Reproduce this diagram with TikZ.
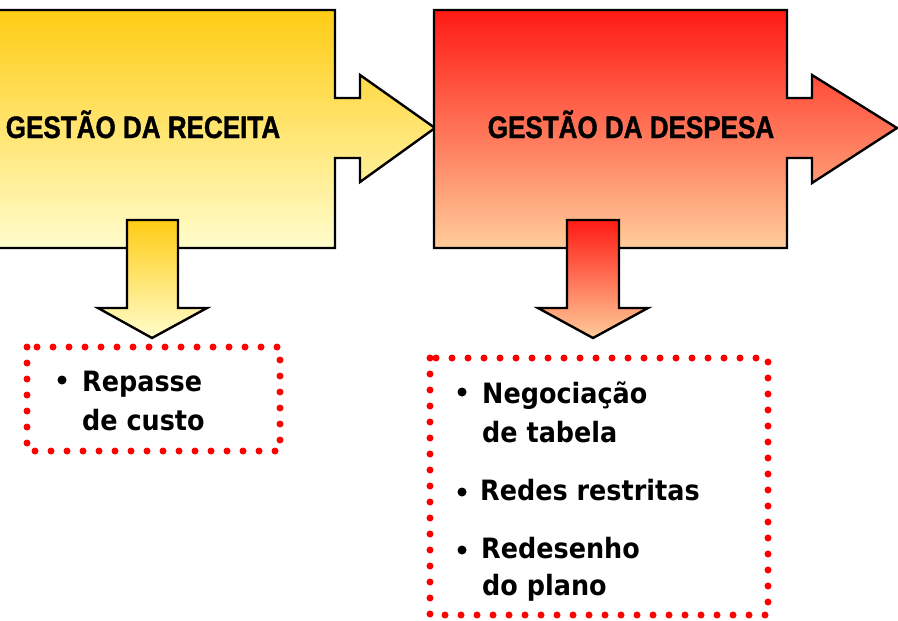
\documentclass[tikz,border=0pt]{standalone}
\usepackage{fontspec}
\newfontfamily\titlefont[FakeStretch=0.84,FakeBold=1.2]{Liberation Sans Bold}
\newfontfamily\itemfont[FakeStretch=0.91]{DejaVu Sans Bold}
\definecolor{ytop}{HTML}{FFCC14}
\definecolor{ybot}{HTML}{FFFDCC}
\definecolor{rtop}{HTML}{FF1A14}
\definecolor{rbot}{HTML}{FFCC99}
\definecolor{dotred}{HTML}{FF0000}
\tikzset{
  outline/.style={draw=black, line width=2.4pt, line join=miter},
  yshade/.style={outline, top color=ytop, bottom color=ybot},
  rshade/.style={outline, top color=rtop, bottom color=rbot},
  dotbox/.style={draw=dotred, line width=7pt, line cap=round, dash pattern=on 0pt off 16pt},
  title/.style={font=\titlefont\fontsize{31}{36}\selectfont, anchor=base, inner sep=0pt},
  itemtext/.style={font=\itemfont\fontsize{28}{33}\selectfont, anchor=base west, inner sep=0pt},
  bul/.style={circle, fill=black, inner sep=0pt, minimum size=9pt}
}
\begin{document}
\begin{tikzpicture}[x=1pt,y=-1pt]
\useasboundingbox (0,0) rectangle (898,621);
\clip (0,0) rectangle (898,621);
% yellow box with right arrow
\path[yshade] (-10,10) -- (335,10) -- (335,98) -- (360,98) -- (360,75) -- (435,128)
  -- (360,182) -- (360,158) -- (335,158) -- (335,248) -- (-10,248) -- cycle;
% red box with right arrow
\path[rshade] (434,10) -- (787,10) -- (787,98) -- (812,98) -- (812,75) -- (897,128)
  -- (812,183) -- (812,158) -- (787,158) -- (787,248) -- (434,248) -- cycle;
% down arrows
\path[yshade] (127,220) -- (178,220) -- (178,308) -- (207,308) -- (152,338)
  -- (98,308) -- (127,308) -- cycle;
\path[rshade] (567,220) -- (619,220) -- (619,308) -- (648,308) -- (593,338)
  -- (538,308) -- (567,308) -- cycle;
% titles
\node[title] (t1) at (143,138) {GESTÃO DA RECEITA};
\node[title] (t2) at (631,138) {GESTÃO DA DESPESA};
% dotted boxes
\draw[dotbox] (27,347) rectangle (280,451);
\draw[dotbox] (430,358) rectangle (768,615);
% left items
\node[bul] (b1) at (62,380) {};
\node[itemtext] (l1a) at (82,391) {Repasse};
\node[itemtext] (l1b) at (82,430) {de custo};
% right items
\node[bul] (b2) at (462,392) {};
\node[itemtext] (r1a) at (482,403) {Negociação};
\node[itemtext] (r1b) at (482,442) {de tabela};
\node[bul] (b3) at (462,492) {};
\node[itemtext] (r2a) at (480,500) {Redes restritas};
\node[bul] (b4) at (462,550) {};
\node[itemtext] (r3a) at (481,558) {Redesenho};
\node[itemtext] (r3b) at (482,595) {do plano};
\end{tikzpicture}
\end{document}
